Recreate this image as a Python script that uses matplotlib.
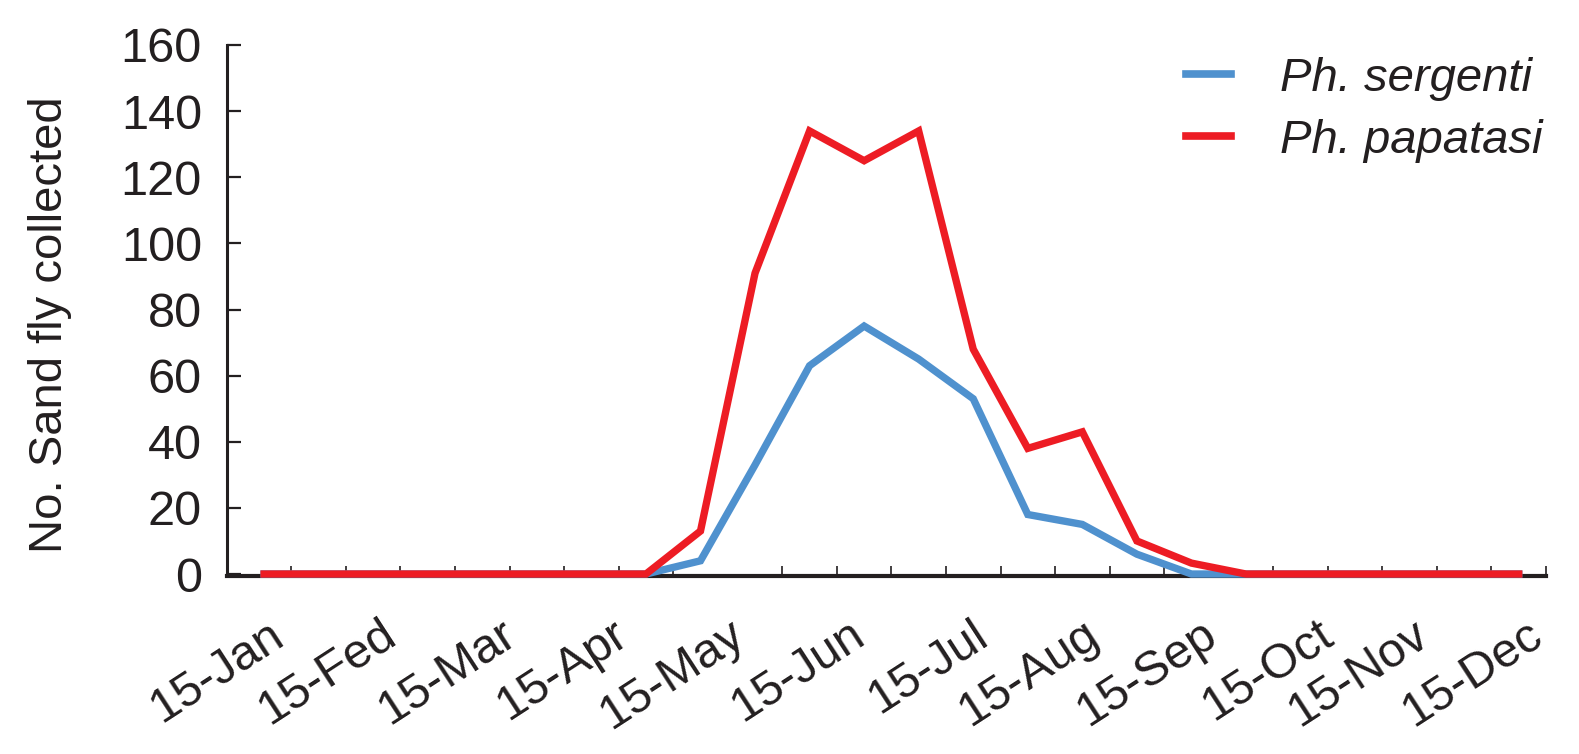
import matplotlib
matplotlib.use("Agg")
import matplotlib.pyplot as plt
import numpy as np

# ---- data (two collections per month, mid-Jan .. end-Dec) ----
sergenti = [0, 0, 0, 0, 0, 0, 0, 0, 4, 33, 63, 75, 65, 53, 18, 15, 6, 0, 0, 0, 0, 0, 0, 0]
papatasi = [0, 0, 0, 0, 0, 0, 0, 0, 13, 91, 134, 125, 134, 68, 38, 43, 10, 3.3, 0, 0, 0, 0, 0, 0]
month_labels = ["15-Jan", "15-Fed", "15-Mar", "15-Apr", "15-May", "15-Jun",
                "15-Jul", "15-Aug", "15-Sep", "15-Oct", "15-Nov", "15-Dec"]
series_names = ["Ph. sergenti", "Ph. papatasi"]
yticks = [0, 20, 40, 60, 80, 100, 120, 140, 160]

# ---- layout ----
label_anchor = [0.05, 2.11, 4.31, 6.36, 8.5, 10.7, 12.96, 14.99, 17.17, 19.3, 21.04, 23.13]

plt.rcParams['font.family'] = ['Liberation Sans', 'DejaVu Sans']

W, H = 1579, 754
fig = plt.figure(figsize=(W / 100, H / 100), dpi=100)
ax = fig.add_axes([227 / W, 1 - 576 / H, (1546 - 227) / W, (576 - 45) / H])

x = np.arange(len(sergenti))
blue = '#4F91CE'
red = '#ED1C24'
ax.plot(x, sergenti, color=blue, lw=5.3, solid_joinstyle='miter', clip_on=False,
        zorder=3, label=series_names[0])
ax.plot(x, papatasi, color=red, lw=5.3, solid_joinstyle='miter', clip_on=False,
        zorder=4, label=series_names[1])

ax.set_xlim(-0.68, 23.5)
ax.set_ylim(-0.6, 160)

for s in ['top', 'right']:
    ax.spines[s].set_visible(False)
ax.spines['left'].set_linewidth(2.2)
ax.spines['bottom'].set_linewidth(3.0)
ax.spines['left'].set_color('#231f20')
ax.spines['bottom'].set_color('#231f20')
ax.spines['left'].set_bounds(0, 160)
ax.spines['left'].set_zorder(2)
ax.spines['bottom'].set_zorder(2)

ax.set_yticks(yticks)
ax.set_yticklabels([str(v) for v in yticks])
ax.tick_params(axis='y', direction='in', length=10, width=1.6, color='#231f20',
               labelsize=35, pad=18, labelcolor='#231f20')

ax.set_xticks(label_anchor)
ax.set_xticklabels(month_labels, rotation=33, ha='right', rotation_mode='anchor')
ax.tick_params(axis='x', which='major', length=0, labelsize=35, pad=26, labelcolor='#231f20')
ax.set_xticks(np.arange(len(sergenti)) + 0.5, minor=True)
ax.tick_params(axis='x', which='minor', direction='in', length=7, width=1.2, color='#231f20')

fig.text(50 / W, 1 - 325 / H, "No. Sand fly collected", rotation=90, ha='center', va='center',
         fontsize=34, color='#231f20')

leg = ax.legend(loc='upper right', bbox_to_anchor=(1543 / W, 1 - 57 / H),
                bbox_transform=fig.transFigure, frameon=False, fontsize=34,
                handlelength=0.95, handletextpad=1.05, labelspacing=0.38,
                borderpad=0, borderaxespad=0)
for t in leg.get_texts():
    t.set_fontstyle('italic')
    t.set_color('#231f20')
for h in leg.get_lines():
    h.set_linewidth(5.5)

fig.savefig("out.png", dpi=100)
